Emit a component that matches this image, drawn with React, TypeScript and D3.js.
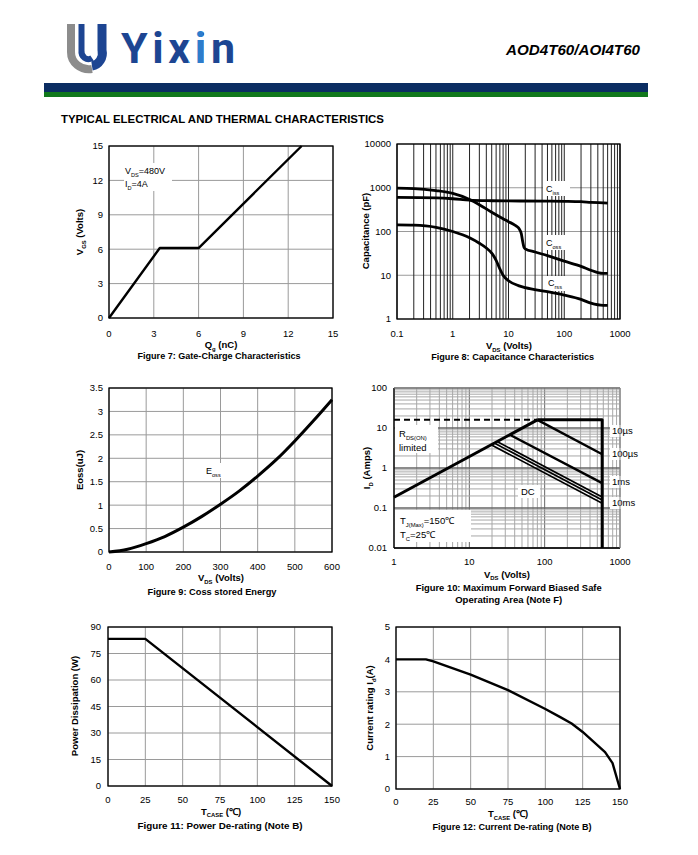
import React from 'react';
import * as d3 from 'd3';

const FONT = "'Liberation Sans', Arial, Helvetica, sans-serif";

// ---------- Figure 7: Gate charge ----------
const fig7Qg = [0, 3.4, 6.0, 12.9];
const fig7Vgs = [0, 6.1, 6.1, 15];
const fig7XTicks = [0, 3, 6, 9, 12, 15];
const fig7YTicks = [0, 3, 6, 9, 12, 15];

// ---------- Figure 8: Capacitance ----------
const cissVds = [0.1, 0.5, 1, 2, 5, 10, 50, 100, 200, 300, 500, 600];
const cissPf = [600, 585, 560, 520, 505, 500, 495, 490, 480, 465, 450, 445];
const cossVds = [0.1, 0.2, 0.5, 1, 2, 3, 5, 8, 10, 13, 15, 16, 17, 18, 19, 20, 30, 50, 100, 200, 300, 400, 500, 600];
const cossPf = [980, 960, 860, 740, 540, 410, 275, 195, 168, 140, 122, 108, 88, 58, 43, 40, 34, 28, 21, 16, 13, 11.5, 11, 11];
const crssVds = [0.1, 0.2, 0.5, 1, 2, 3, 4, 5, 6, 7, 8, 10, 15, 20, 50, 100, 200, 300, 500, 600];
const crssPf = [142, 140, 125, 100, 72, 54, 42, 32, 22, 14, 10, 7.5, 5.8, 5.2, 4.2, 3.5, 2.8, 2.3, 2.05, 2.05];
const fig8XTicks = [0.1, 1, 10, 100, 1000];
const fig8YTicks = [1, 10, 100, 1000, 10000];

// ---------- Figure 9: Eoss ----------
const eossVds = [0, 50, 100, 150, 200, 250, 300, 350, 400, 450, 500, 550, 600];
const eossUj = [0, 0.06, 0.18, 0.33, 0.53, 0.76, 1.02, 1.3, 1.62, 1.97, 2.37, 2.8, 3.25];
const fig9XTicks = [0, 100, 200, 300, 400, 500, 600];
const fig9YTicks = [0, 0.5, 1, 1.5, 2, 2.5, 3, 3.5];

// ---------- Figure 10: SOA ----------
const soaRdsVds = [1, 80];
const soaRdsId = [0.186, 16];
const soaDashVds = [1, 80];
const soaDashId = [16, 16];
const soaTopVds = [80, 580, 580];
const soaTopId = [16, 16, 0.01];
const soa10usVds = [80, 580];
const soa10usId = [16, 2.2];
const soa100usVds = [35.5, 580];
const soa100usId = [6.6, 0.42];
const soa1msVds = [24, 580];
const soa1msId = [4.46, 0.188];
const soa10msVds = [22, 580];
const soa10msId = [4.09, 0.158];
const soaDcVds = [20, 580];
const soaDcId = [3.72, 0.131];
const fig10XTicks = [1, 10, 100, 1000];
const fig10YTicks = [0.01, 0.1, 1, 10, 100];
const fig10Labels = ['10µs', '100µs', '1ms', '10ms'];

// ---------- Figure 11: Power derating ----------
const pdTcase = [0, 25, 150];
const pdWatts = [83.3, 83.3, 0];
const fig11XTicks = [0, 25, 50, 75, 100, 125, 150];
const fig11YTicks = [0, 15, 30, 45, 60, 75, 90];

// ---------- Figure 12: Current derating ----------
const idTcase = [0, 20, 25, 50, 75, 100, 110, 117.6, 125, 140, 145, 150];
const idAmps = [4, 4, 3.94, 3.53, 3.05, 2.47, 2.22, 2.02, 1.76, 1.14, 0.8, 0];
const fig12XTicks = [0, 25, 50, 75, 100, 125, 150];
const fig12YTicks = [0, 1, 2, 3, 4, 5];

// ---------- Header ----------
const brandName = 'Yixin';
const partNumber = 'AOD4T60/AOI4T60';
const sectionTitle = 'TYPICAL ELECTRICAL AND THERMAL CHARACTERISTICS';

type Part = { t: string; sub?: boolean };

function Rich({ x, y, parts, size, weight, anchor, transform }: any) {
  let shifted = false;
  const kids = parts.map((p: Part, i: number) => {
    let dy = 0;
    if (p.sub && !shifted) { dy = size * 0.3; shifted = true; }
    else if (!p.sub && shifted) { dy = -size * 0.3; shifted = false; }
    return (
      <tspan key={i} dy={dy} fontSize={p.sub ? size * 0.62 : size}>{p.t}</tspan>
    );
  });
  return (
    <text x={x} y={y} transform={transform} fontFamily={FONT} fontWeight={weight || 'normal'}
      textAnchor={anchor || 'start'} fontSize={size} fill="#000">{kids}</text>
  );
}

const logGrid = (lo: number, hi: number) => {
  const arr: number[] = [];
  for (let e = lo; e < hi; e++) for (let k = 1; k < 10; k++) arr.push(k * Math.pow(10, e));
  arr.push(Math.pow(10, hi));
  return arr;
};

function Frame({ l, t, r, b }: any) {
  return <rect x={l} y={t} width={r - l} height={b - t} fill="none" stroke="#000" strokeWidth={1.3} />;
}

function XTickLabels({ ticks, x, y, fmt }: any) {
  return (
    <g>
      {ticks.map((v: number, i: number) => (
        <text key={i} x={x(v)} y={y} textAnchor="middle" fontFamily={FONT} fontSize={9.5} fill="#000">{fmt ? fmt(v) : String(v)}</text>
      ))}
    </g>
  );
}

function YTickLabels({ ticks, y, x, fmt }: any) {
  return (
    <g>
      {ticks.map((v: number, i: number) => (
        <text key={i} x={x} y={y(v) + 3.4} textAnchor="end" fontFamily={FONT} fontSize={9.5} fill="#000">{fmt ? fmt(v) : String(v)}</text>
      ))}
    </g>
  );
}

function Caption({ x, y, text, w }: any) {
  return (
    <text x={x} y={y} textAnchor="middle" fontFamily={FONT} fontWeight="bold" fontSize={8.6}
      textLength={w} lengthAdjust="spacingAndGlyphs" fill="#000">{text}</text>
  );
}

function pathOf(xs: number[], ys: number[], x: any, y: any, curve?: any) {
  const pts = xs.map((v, i) => [v, ys[i]] as [number, number]);
  const gen = d3.line<[number, number]>().x(d => x(d[0])).y(d => y(d[1]));
  if (curve) gen.curve(curve);
  return gen(pts) || '';
}

function LinearGrid({ x, y, xTicks, yTicks, box, color }: any) {
  return (
    <g stroke={color || '#9a9a9a'} strokeWidth={1}>
      {xTicks.map((v: number, i: number) => <line key={'x' + i} x1={x(v)} x2={x(v)} y1={box.t} y2={box.b} />)}
      {yTicks.map((v: number, i: number) => <line key={'y' + i} x1={box.l} x2={box.r} y1={y(v)} y2={y(v)} />)}
    </g>
  );
}

function Fig7() {
  const box = { l: 109, r: 333, t: 146, b: 318 };
  const x = d3.scaleLinear().domain([0, 15]).range([box.l, box.r]);
  const y = d3.scaleLinear().domain([0, 15]).range([box.b, box.t]);
  return (
    <g>
      <LinearGrid x={x} y={y} xTicks={fig7XTicks} yTicks={fig7YTicks} box={box} />
      <rect x={124} y={163} width={48} height={28} fill="#fff" />
      <Rich x={125} y={174} size={9} parts={[{ t: 'V' }, { t: 'DS', sub: true }, { t: '=480V' }]} />
      <Rich x={125} y={187} size={9} parts={[{ t: 'I' }, { t: 'D', sub: true }, { t: '=4A' }]} />
      <path d={pathOf(fig7Qg, fig7Vgs, x, y)} fill="none" stroke="#000" strokeWidth={2.4} strokeLinejoin="round" />
      <Frame {...box} />
      <XTickLabels ticks={fig7XTicks} x={x} y={336.5} />
      <YTickLabels ticks={fig7YTicks} y={y} x={103} />
      <Rich x={221} y={348} size={9.5} weight="bold" anchor="middle" parts={[{ t: 'Q' }, { t: 'g', sub: true }, { t: ' (nC)' }]} />
      <Rich x={0} y={0} transform={`translate(83,232) rotate(-90)`} size={9.5} weight="bold" anchor="middle"
        parts={[{ t: 'V' }, { t: 'GS', sub: true }, { t: ' (Volts)' }]} />
      <Caption x={219} y={359} text="Figure 7: Gate-Charge Characteristics" w={163} />
    </g>
  );
}

function Fig8() {
  const box = { l: 397, r: 620, t: 144, b: 319 };
  const x = d3.scaleLog().domain([0.1, 1000]).range([box.l, box.r]);
  const y = d3.scaleLog().domain([1, 10000]).range([box.b, box.t]);
  const vg = logGrid(-1, 3);
  const curve = d3.curveMonotoneX;
  return (
    <g>
      <g stroke="#9a9a9a" strokeWidth={1}>
        {fig8YTicks.map((v, i) => <line key={i} x1={box.l} x2={box.r} y1={y(v)} y2={y(v)} />)}
      </g>
      <g stroke="#222" strokeWidth={1}>
        {vg.map((v, i) => <line key={i} x1={x(v)} x2={x(v)} y1={box.t} y2={box.b} />)}
      </g>
      <rect x={543} y={181} width={27} height={15} fill="#fff" />
      <rect x={544} y={235} width={27} height={15} fill="#fff" />
      <rect x={546} y={276} width={27} height={15} fill="#fff" />
      <Rich x={546} y={192} size={9} parts={[{ t: 'C' }, { t: 'iss', sub: true }]} />
      <Rich x={546} y={246} size={9} parts={[{ t: 'C' }, { t: 'oss', sub: true }]} />
      <Rich x={548} y={286} size={9} parts={[{ t: 'C' }, { t: 'rss', sub: true }]} />
      <g fill="none" stroke="#000" strokeWidth={2.8} strokeLinejoin="round">
        <path d={pathOf(cissVds, cissPf, x, y, curve)} />
        <path d={pathOf(cossVds, cossPf, x, y, curve)} />
        <path d={pathOf(crssVds, crssPf, x, y, curve)} />
      </g>
      <Frame {...box} />
      <XTickLabels ticks={fig8XTicks} x={x} y={336.5} />
      <YTickLabels ticks={fig8YTicks} y={y} x={391} />
      <Rich x={509} y={349} size={9.5} weight="bold" anchor="middle" parts={[{ t: 'V' }, { t: 'DS', sub: true }, { t: ' (Volts)' }]} />
      <Rich x={0} y={0} transform={`translate(369,231) rotate(-90)`} size={9.5} weight="bold" anchor="middle"
        parts={[{ t: 'Capacitance (pF)' }]} />
      <Caption x={512.7} y={360} text="Figure 8: Capacitance Characteristics" w={163} />
    </g>
  );
}

function Fig9() {
  const box = { l: 109, r: 332, t: 388, b: 552 };
  const x = d3.scaleLinear().domain([0, 600]).range([box.l, box.r]);
  const y = d3.scaleLinear().domain([0, 3.5]).range([box.b, box.t]);
  return (
    <g>
      <LinearGrid x={x} y={y} xTicks={fig9XTicks} yTicks={fig9YTicks} box={box} />
      <rect x={205} y={463} width={24} height={15} fill="#fff" />
      <Rich x={206} y={474} size={9} parts={[{ t: 'E' }, { t: 'oss', sub: true }]} />
      <path d={pathOf(eossVds, eossUj, x, y, d3.curveMonotoneX)} fill="none" stroke="#000" strokeWidth={3} />
      <Frame {...box} />
      <XTickLabels ticks={fig9XTicks} x={x} y={569.5} />
      <YTickLabels ticks={fig9YTicks} y={y} x={103} />
      <Rich x={221} y={581} size={9.5} weight="bold" anchor="middle" parts={[{ t: 'V' }, { t: 'DS', sub: true }, { t: ' (Volts)' }]} />
      <Rich x={0} y={0} transform={`translate(83,470) rotate(-90)`} size={9.5} weight="bold" anchor="middle"
        parts={[{ t: 'Eoss(uJ)' }]} />
      <Caption x={212} y={595} text="Figure 9: Coss stored Energy" w={129} />
    </g>
  );
}

function Fig10() {
  const box = { l: 394, r: 620, t: 388, b: 548 };
  const x = d3.scaleLog().domain([1, 1000]).range([box.l, box.r]);
  const y = d3.scaleLog().domain([0.01, 100]).range([box.b, box.t]);
  const vg = logGrid(0, 3);
  const hg = logGrid(-2, 2);
  const isDecade = (v: number) => Math.abs(Math.log10(v) - Math.round(Math.log10(v))) < 1e-9;
  const lab = [
    { t: fig10Labels[0], y: 434 },
    { t: fig10Labels[1], y: 457 },
    { t: fig10Labels[2], y: 485 },
    { t: fig10Labels[3], y: 506 },
  ];
  return (
    <g>
      <g strokeWidth={1}>
        {vg.map((v, i) => <line key={'v' + i} x1={x(v)} x2={x(v)} y1={box.t} y2={box.b} stroke={isDecade(v) ? '#666' : '#a8a8a8'} />)}
        {hg.map((v, i) => <line key={'h' + i} x1={box.l} x2={box.r} y1={y(v)} y2={y(v)} stroke={isDecade(v) ? '#666' : '#a8a8a8'} strokeWidth={isDecade(v) ? 1.4 : 1} />)}
      </g>
      <rect x={395} y={425} width={43} height={28} fill="#fff" />
      <Rich x={399} y={437} size={9.5} parts={[{ t: 'R' }, { t: 'DS(ON)', sub: true }]} />
      <Rich x={399} y={451} size={9.5} parts={[{ t: 'limited' }]} />
      <rect x={395} y={510} width={76} height={32} fill="#fff" />
      <Rich x={400} y={524} size={9.5} parts={[{ t: 'T' }, { t: 'J(Max)', sub: true }, { t: '=150℃' }]} />
      <Rich x={400} y={538} size={9.5} parts={[{ t: 'T' }, { t: 'C', sub: true }, { t: '=25℃' }]} />
      <rect x={518} y={485} width={22} height={13} fill="#fff" />
      <Rich x={521} y={495} size={9.5} parts={[{ t: 'DC' }]} />
      {lab.map((l, i) => (
        <g key={i}>
          <rect x={610} y={l.y - 9} width={30} height={12} fill="#fff" />
          <text x={612} y={l.y} fontFamily={FONT} fontSize={9.5} fill="#000">{l.t}</text>
        </g>
      ))}
      <g fill="none" stroke="#000" strokeWidth={2.4} strokeLinejoin="round">
        <path d={pathOf(soaDashVds, soaDashId, x, y)} strokeDasharray="6,4" strokeWidth={2} />
        <path d={pathOf(soaRdsVds, soaRdsId, x, y)} strokeWidth={3} />
        <path d={pathOf(soaTopVds, soaTopId, x, y)} strokeWidth={3} />
        <path d={pathOf(soa10usVds, soa10usId, x, y)} />
        <path d={pathOf(soa100usVds, soa100usId, x, y)} />
        <path d={pathOf(soa1msVds, soa1msId, x, y)} strokeWidth={1.7} />
        <path d={pathOf(soa10msVds, soa10msId, x, y)} strokeWidth={1.7} />
        <path d={pathOf(soaDcVds, soaDcId, x, y)} strokeWidth={1.7} />
      </g>
      <line x1={box.l} x2={box.l} y1={box.t} y2={box.b} stroke="#000" strokeWidth={1.3} />
      <line x1={box.l} x2={box.r} y1={box.b} y2={box.b} stroke="#000" strokeWidth={1.3} />
      <line x1={box.l} x2={box.r} y1={box.t} y2={box.t} stroke="#888" strokeWidth={1} />
      <line x1={box.r} x2={box.r} y1={box.t} y2={box.b} stroke="#888" strokeWidth={1} />
      <XTickLabels ticks={fig10XTicks} x={x} y={564.5} />
      <YTickLabels ticks={fig10YTicks} y={y} x={387} />
      <Rich x={507} y={577.5} size={9.5} weight="bold" anchor="middle" parts={[{ t: 'V' }, { t: 'DS', sub: true }, { t: ' (Volts)' }]} />
      <Rich x={0} y={0} transform={`translate(370,468) rotate(-90)`} size={9.5} weight="bold" anchor="middle"
        parts={[{ t: 'I' }, { t: 'D', sub: true }, { t: ' (Amps)' }]} />
      <Caption x={508.7} y={590.5} text="Figure 10: Maximum Forward Biased Safe" w={186} />
      <Caption x={508.7} y={602.5} text="Operating Area  (Note F)" w={107} />
    </g>
  );
}

function Fig11() {
  const box = { l: 108, r: 332, t: 627, b: 786 };
  const x = d3.scaleLinear().domain([0, 150]).range([box.l, box.r]);
  const y = d3.scaleLinear().domain([0, 90]).range([box.b, box.t]);
  return (
    <g>
      <LinearGrid x={x} y={y} xTicks={fig11XTicks} yTicks={fig11YTicks} box={box} />
      <path d={pathOf(pdTcase, pdWatts, x, y)} fill="none" stroke="#000" strokeWidth={2.4} strokeLinejoin="round" />
      <Frame {...box} />
      <XTickLabels ticks={fig11XTicks} x={x} y={802.5} />
      <YTickLabels ticks={fig11YTicks} y={y} x={101} />
      <Rich x={221} y={814.5} size={9.5} weight="bold" anchor="middle" parts={[{ t: 'T' }, { t: 'CASE', sub: true }, { t: ' (℃)' }]} />
      <Rich x={0} y={0} transform={`translate(78,706) rotate(-90)`} size={9.5} weight="bold" anchor="middle"
        parts={[{ t: 'Power Dissipation (W)' }]} />
      <Caption x={220} y={829} text="Figure 11: Power De-rating (Note B)" w={165} />
    </g>
  );
}

function Fig12() {
  const box = { l: 396, r: 620, t: 627, b: 789 };
  const x = d3.scaleLinear().domain([0, 150]).range([box.l, box.r]);
  const y = d3.scaleLinear().domain([0, 5]).range([box.b, box.t]);
  return (
    <g>
      <LinearGrid x={x} y={y} xTicks={fig12XTicks} yTicks={fig12YTicks} box={box} />
      <path d={pathOf(idTcase, idAmps, x, y)} fill="none" stroke="#000" strokeWidth={2.4} strokeLinejoin="round" />
      <Frame {...box} />
      <XTickLabels ticks={fig12XTicks} x={x} y={805} />
      <YTickLabels ticks={fig12YTicks} y={y} x={390} />
      <Rich x={508} y={817} size={9.5} weight="bold" anchor="middle" parts={[{ t: 'T' }, { t: 'CASE', sub: true }, { t: ' (℃)' }]} />
      <Rich x={0} y={0} transform={`translate(373,708) rotate(-90)`} size={9.5} weight="bold" anchor="middle"
        parts={[{ t: 'Current rating I' }, { t: 'd', sub: true }, { t: '(A)' }]} />
      <Caption x={512} y={829.5} text="Figure 12: Current De-rating (Note B)" w={159} />
    </g>
  );
}

function Header() {
  return (
    <g>
      <defs>
        <linearGradient id="brandFill" gradientUnits="userSpaceOnUse" x1={0} y1={0} x2={698} y2={0}>
          <stop offset={188 / 698} stopColor="#1d4592" />
          <stop offset={188 / 698} stopColor="#2d7ccc" />
          <stop offset={203 / 698} stopColor="#2d7ccc" />
          <stop offset={203 / 698} stopColor="#1d4592" />
        </linearGradient>
      </defs>
      {/* logo mark */}
      <path d="M71,24 V52 A18,17 0 0 0 92,69" fill="none" stroke="#8c8c8c" strokeWidth={8} />
      <path d="M102,24 V50 A12,13 0 0 1 92,66" fill="none" stroke="#1d4592" strokeWidth={9} />
      <path d="M81.5,24 V50 A7,8 0 0 0 92,58" fill="none" stroke="#1d4592" strokeWidth={6} />
      <text x={121} y={63} fontFamily="Roboto, 'DejaVu Sans', sans-serif" fontSize={43} fontWeight="bold"
        fill="url(#brandFill)" textLength={114} lengthAdjust="spacing">{brandName}</text>
      <text x={640} y={55} textAnchor="end" fontFamily={FONT} fontSize={15} fontWeight="bold" fontStyle="italic"
        textLength={134} lengthAdjust="spacingAndGlyphs" fill="#000">{partNumber}</text>
      <rect x={44} y={83} width={604} height={9} fill="#0b2d62" />
      <rect x={44} y={92} width={604} height={5} fill="#11781c" />
      <text x={61} y={123} fontFamily={FONT} fontSize={11} fontWeight="bold" textLength={323}
        lengthAdjust="spacingAndGlyphs" fill="#000">{sectionTitle}</text>
    </g>
  );
}

export default function App() {
  return (
    <svg width={698} height={855} style={{ position: 'absolute', left: 0, top: 0, background: '#fff' }}>
      <rect width={698} height={855} fill="#fff" />
      <Header />
      <Fig7 />
      <Fig8 />
      <Fig9 />
      <Fig10 />
      <Fig11 />
      <Fig12 />
    </svg>
  );
}
